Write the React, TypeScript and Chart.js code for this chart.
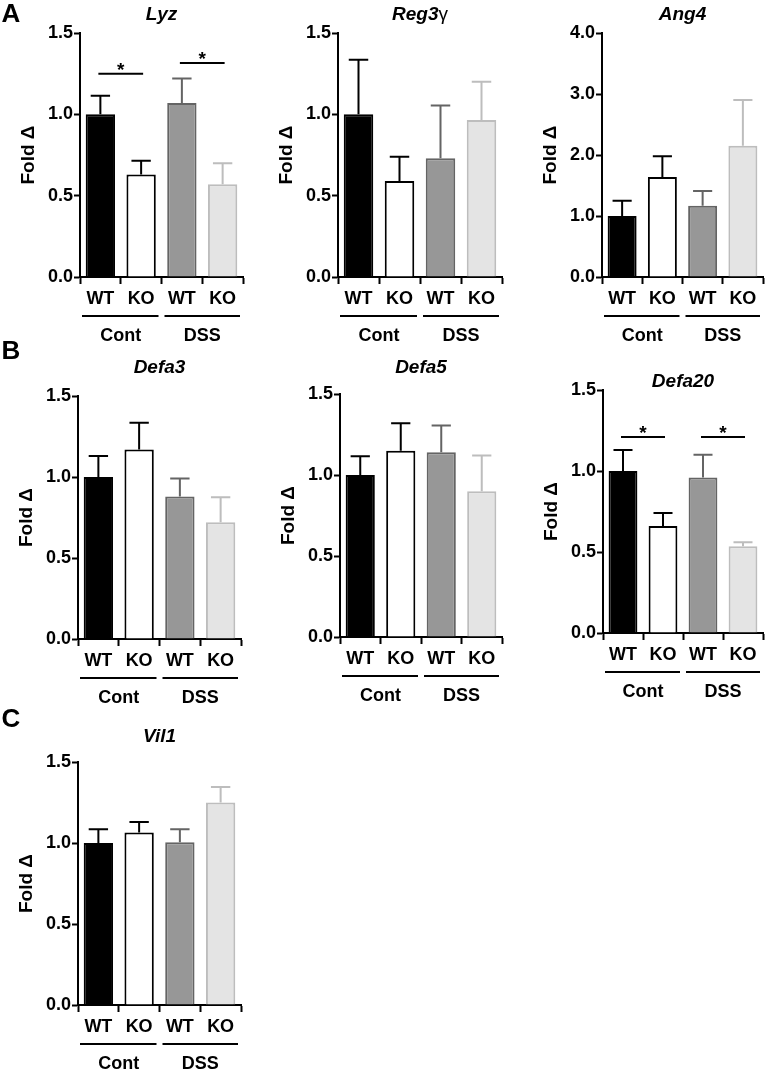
import React, { useEffect, useRef } from "react";
import { Chart, registerables } from "chart.js";

Chart.register(...registerables);

// ---------- data ----------
const categories = ["WT", "KO", "WT", "KO"];
const groupLabels = ["Cont", "DSS"];
const yAxisTitle = "Fold Δ";

const yTicks15 = [0, 0.5, 1.0, 1.5];
const yTicks40 = [0, 1, 2, 3, 4];

const lyzMeans = [1.0, 0.63, 1.07, 0.57];
const lyzErrors = [0.115, 0.085, 0.15, 0.13];
const lyzSig = [[0, 1, 1.25], [2, 3, 1.315]];

const reg3gMeans = [1.0, 0.59, 0.73, 0.965];
const reg3gErrors = [0.335, 0.15, 0.325, 0.235];

const ang4Means = [1.0, 1.64, 1.17, 2.15];
const ang4Errors = [0.25, 0.34, 0.24, 0.75];

const defa3Means = [1.0, 1.17, 0.88, 0.72];
const defa3Errors = [0.13, 0.165, 0.11, 0.155];

const defa5Means = [1.0, 1.15, 1.14, 0.9];
const defa5Errors = [0.115, 0.17, 0.165, 0.22];

const defa20Means = [1.0, 0.66, 0.96, 0.535];
const defa20Errors = [0.13, 0.08, 0.14, 0.025];
const defa20Sig = [[0, 1, 1.21], [2, 3, 1.21]];

const vil1Means = [1.0, 1.065, 1.005, 1.25];
const vil1Errors = [0.085, 0.065, 0.08, 0.095];

// ---------- styles ----------
const FONT = "'Liberation Sans', Arial, Helvetica, sans-serif";
const fillColors = ["#000000", "#ffffff", "#979797", "#e4e4e4"];
const borderColors = ["#000000", "#000000", "#646464", "#bdbdbd"];

type Part = { text: string; italic: boolean; bold: boolean };
interface PanelSpec {
  id: string;
  title: Part[];
  means: number[];
  errors: number[];
  sig: number[][];
  yTicks: number[];
  L: number;
  T: number;
  R: number;
  B: number;
  titleY: number;
  letter?: string;
  letterY?: number;
}

const it = (t: string): Part => ({ text: t, italic: true, bold: true });

const panels: PanelSpec[] = [
  { id: "lyz", title: [it("Lyz")], means: lyzMeans, errors: lyzErrors, sig: lyzSig, yTicks: yTicks15, L: 80, T: 33, R: 243, B: 277, titleY: 15, letter: "A", letterY: 15 },
  { id: "reg3g", title: [it("Reg3"), { text: "γ", italic: false, bold: false }], means: reg3gMeans, errors: reg3gErrors, sig: [], yTicks: yTicks15, L: 338, T: 33, R: 502, B: 277, titleY: 15 },
  { id: "ang4", title: [it("Ang4")], means: ang4Means, errors: ang4Errors, sig: [], yTicks: yTicks40, L: 602, T: 33, R: 763, B: 277, titleY: 15 },
  { id: "defa3", title: [it("Defa3")], means: defa3Means, errors: defa3Errors, sig: [], yTicks: yTicks15, L: 78, T: 396, R: 241, B: 639, titleY: 368, letter: "B", letterY: 352 },
  { id: "defa5", title: [it("Defa5")], means: defa5Means, errors: defa5Errors, sig: [], yTicks: yTicks15, L: 340, T: 394, R: 502, B: 637, titleY: 368 },
  { id: "defa20", title: [it("Defa20")], means: defa20Means, errors: defa20Errors, sig: defa20Sig, yTicks: yTicks15, L: 603, T: 390, R: 763, B: 633, titleY: 382 },
  { id: "vil1", title: [it("Vil1")], means: vil1Means, errors: vil1Errors, sig: [], yTicks: yTicks15, L: 78, T: 762, R: 241, B: 1005, titleY: 737, letter: "C", letterY: 720 },
];

const PAD_TOP = 60;
const BOTTOM_TOTAL = 78;
const LEFT_TOTAL = 80;
const PAD_LEFT = 17;
const PAD_RIGHT = 2;
const X_AXIS_H = 30;

function Panel({ spec }: { spec: PanelSpec }) {
  const ref = useRef<HTMLCanvasElement>(null);
  const width = spec.R - spec.L + LEFT_TOTAL + PAD_RIGHT;
  const height = spec.B - spec.T + PAD_TOP + BOTTOM_TOTAL;
  const left = spec.L - LEFT_TOTAL;
  const top = spec.T - PAD_TOP;

  useEffect(() => {
    const canvas = ref.current;
    if (!canvas) return;
    const decor = {
      id: "decor",
      afterDraw(chart: any) {
        const ctx = chart.ctx as CanvasRenderingContext2D;
        const xs = chart.scales.x;
        const ys = chart.scales.y;
        const meta = chart.getDatasetMeta(0);
        ctx.save();
        // error bars (upper only)
        meta.data.forEach((el: any, i: number) => {
          const yTop = ys.getPixelForValue(spec.means[i] + spec.errors[i]);
          const half = el.width * 0.33;
          ctx.strokeStyle = borderColors[i];
          ctx.lineWidth = 2;
          ctx.beginPath();
          ctx.moveTo(el.x, el.y);
          ctx.lineTo(el.x, yTop);
          ctx.moveTo(el.x - half, yTop);
          ctx.lineTo(el.x + half, yTop);
          ctx.stroke();
        });
        // significance bars
        spec.sig.forEach((s) => {
          const x1 = xs.getPixelForValue(s[0]) - 2;
          const x2 = xs.getPixelForValue(s[1]) + 2;
          const y = ys.getPixelForValue(s[2]);
          ctx.strokeStyle = "#000";
          ctx.lineWidth = 2;
          ctx.beginPath();
          ctx.moveTo(x1, y);
          ctx.lineTo(x2, y);
          ctx.stroke();
          ctx.fillStyle = "#000";
          ctx.font = `bold 19px ${FONT}`;
          ctx.textAlign = "center";
          ctx.textBaseline = "alphabetic";
          ctx.fillText("*", (x1 + x2) / 2, y + 2);
        });
        // group lines & labels
        const bottom = chart.chartArea.bottom;
        const mid = (xs.left + xs.right) / 2;
        const lineY = bottom + 39;
        ctx.strokeStyle = "#000";
        ctx.lineWidth = 2;
        ctx.beginPath();
        ctx.moveTo(xs.left + 2, lineY);
        ctx.lineTo(mid - 3, lineY);
        ctx.moveTo(mid + 3, lineY);
        ctx.lineTo(xs.right - 3, lineY);
        ctx.stroke();
        ctx.fillStyle = "#000";
        ctx.font = `bold 18px ${FONT}`;
        ctx.textAlign = "center";
        ctx.textBaseline = "middle";
        ctx.fillText(groupLabels[0], (xs.left + mid) / 2, bottom + 59);
        ctx.fillText(groupLabels[1], (mid + xs.right) / 2, bottom + 59);
        // title
        const fontFor = (p: Part) => `${p.italic ? "italic " : ""}${p.bold ? "bold " : ""}19px ${FONT}`;
        let total = 0;
        spec.title.forEach((p) => {
          ctx.font = fontFor(p);
          total += ctx.measureText(p.text).width;
        });
        let tx = (xs.left + xs.right) / 2 - total / 2;
        const ty = spec.titleY - top;
        ctx.textAlign = "left";
        spec.title.forEach((p) => {
          ctx.font = fontFor(p);
          ctx.fillText(p.text, tx, ty);
          tx += ctx.measureText(p.text).width;
        });
        // panel letter
        if (spec.letter) {
          ctx.font = `bold 26px ${FONT}`;
          ctx.textAlign = "center";
          ctx.fillText(spec.letter, 11 - left, (spec.letterY as number) - top);
        }
        ctx.restore();
      },
    };

    const tickFont = { family: FONT, size: 18, weight: "bold" as const };
    const chart = new Chart(canvas, {
      type: "bar",
      data: {
        labels: categories,
        datasets: [
          {
            data: spec.means,
            backgroundColor: fillColors,
            borderColor: borderColors,
            borderWidth: 2,
            borderSkipped: "start",
            barPercentage: 0.72,
            categoryPercentage: 1,
          },
        ],
      },
      options: {
        responsive: false,
        animation: false,
        devicePixelRatio: 1,
        layout: { padding: { left: PAD_LEFT, top: PAD_TOP, right: PAD_RIGHT, bottom: BOTTOM_TOTAL - X_AXIS_H } },
        plugins: { legend: { display: false }, tooltip: { enabled: false }, title: { display: false } },
        scales: {
          x: {
            type: "category",
            offset: true,
            grid: { display: true, drawOnChartArea: false, drawTicks: true, tickLength: 7, tickWidth: 2, tickColor: "#000", color: "#000" },
            border: { display: true, width: 2, color: "#000" },
            ticks: { color: "#000", font: tickFont, padding: 4, maxRotation: 0, autoSkip: false },
            afterFit: (s: any) => {
              s.height = X_AXIS_H;
            },
          },
          y: {
            min: 0,
            max: spec.yTicks[spec.yTicks.length - 1],
            grid: { display: true, drawOnChartArea: false, drawTicks: true, tickLength: 6, tickWidth: 2, tickColor: "#000", color: "#000" },
            border: { display: true, width: 2, color: "#000" },
            ticks: {
              color: "#000",
              font: tickFont,
              padding: 1,
              callback: (v: any) => Number(v).toFixed(1),
            },
            afterBuildTicks: (s: any) => {
              s.ticks = spec.yTicks.map((v) => ({ value: v }));
            },
            title: { display: true, text: yAxisTitle, color: "#000", font: { family: FONT, size: 19, weight: "bold" }, padding: { top: 0, bottom: 0 } },
            afterFit: (s: any) => {
              s.width = LEFT_TOTAL - PAD_LEFT;
            },
          },
        },
      } as any,
      plugins: [decor],
    });
    return () => chart.destroy();
  }, []);

  return (
    <canvas
      ref={ref}
      width={width}
      height={height}
      style={{ position: "absolute", left, top, width, height }}
    />
  );
}

export default function App() {
  return (
    <div style={{ position: "absolute", left: 0, top: 0, width: 765, height: 1080, background: "#fff", overflow: "hidden" }}>
      {panels.map((p) => (
        <Panel key={p.id} spec={p} />
      ))}
    </div>
  );
}
